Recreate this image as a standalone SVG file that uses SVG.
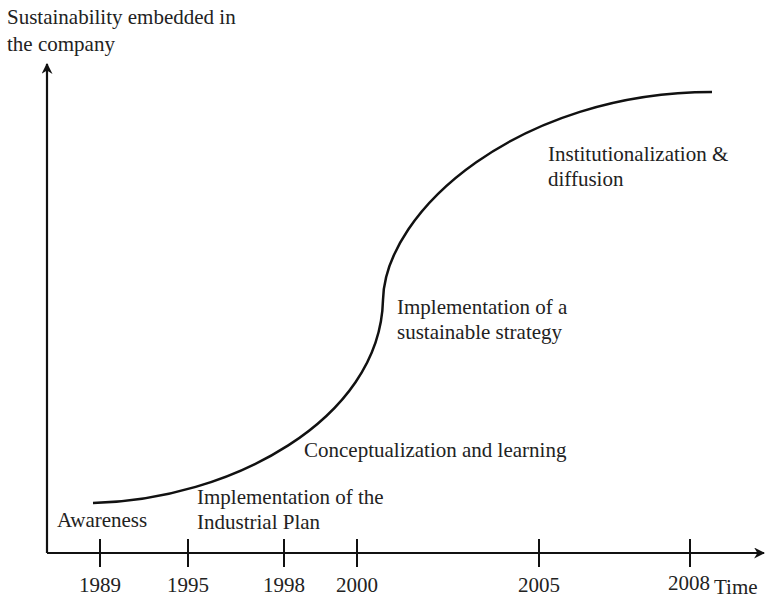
<svg xmlns="http://www.w3.org/2000/svg" width="766" height="599" viewBox="0 0 766 599">
<style>
text{font-family:"Liberation Serif","Times New Roman",serif;font-size:21px;fill:#222}
.ax{stroke:#111;stroke-width:2.2;fill:none}
.tk{stroke:#111;stroke-width:2;fill:none}
.cv{stroke:#111;stroke-width:2.5;fill:none}
.yr{text-anchor:middle}
</style>
<defs>
<marker id="ah" viewBox="0 0 10 10" refX="9" refY="5" markerWidth="5" markerHeight="5" orient="auto" markerUnits="strokeWidth">
<path d="M0,0 L10,5 L0,10 L3,5 Z" fill="#111"/>
</marker>
</defs>
<g id="axes">
<path class="ax" d="M47,553 L47,64" marker-end="url(#ah)"/>
<path class="ax" d="M47,553 L764,553" marker-end="url(#ah)"/>
<g id="ticks">
<path class="tk" d="M100,539V567M188,539V567M284,539V567M357,539V567M539,539V567M690,539V567"/>
</g>
</g>
<g id="connectors">
<path class="cv" d="M93,503 C230,500 380,420 383,300 C385,210 520,92 712,92"/>
</g>
<g id="axis-labels">
<text x="7" y="24">Sustainability embedded in</text>
<text x="7" y="51">the company</text>
<text x="714" y="594">Time</text>
</g>
<g id="years">
<text class="yr" x="100" y="592">1989</text>
<text class="yr" x="188" y="592">1995</text>
<text class="yr" x="284" y="592">1998</text>
<text class="yr" x="357" y="592">2000</text>
<text class="yr" x="539" y="592">2005</text>
<text class="yr" x="689" y="590">2008</text>
</g>
<g id="stage-awareness"><text x="57" y="527">Awareness</text></g>
<g id="stage-industrial"><text x="197" y="504">Implementation of the</text><text x="197" y="529">Industrial Plan</text></g>
<g id="stage-conceptualization"><text x="304" y="457">Conceptualization and learning</text></g>
<g id="stage-strategy"><text x="397" y="314">Implementation of a</text><text x="397" y="339">sustainable strategy</text></g>
<g id="stage-institutionalization"><text x="548" y="161">Institutionalization &amp;</text><text x="548" y="186">diffusion</text></g>
</svg>
